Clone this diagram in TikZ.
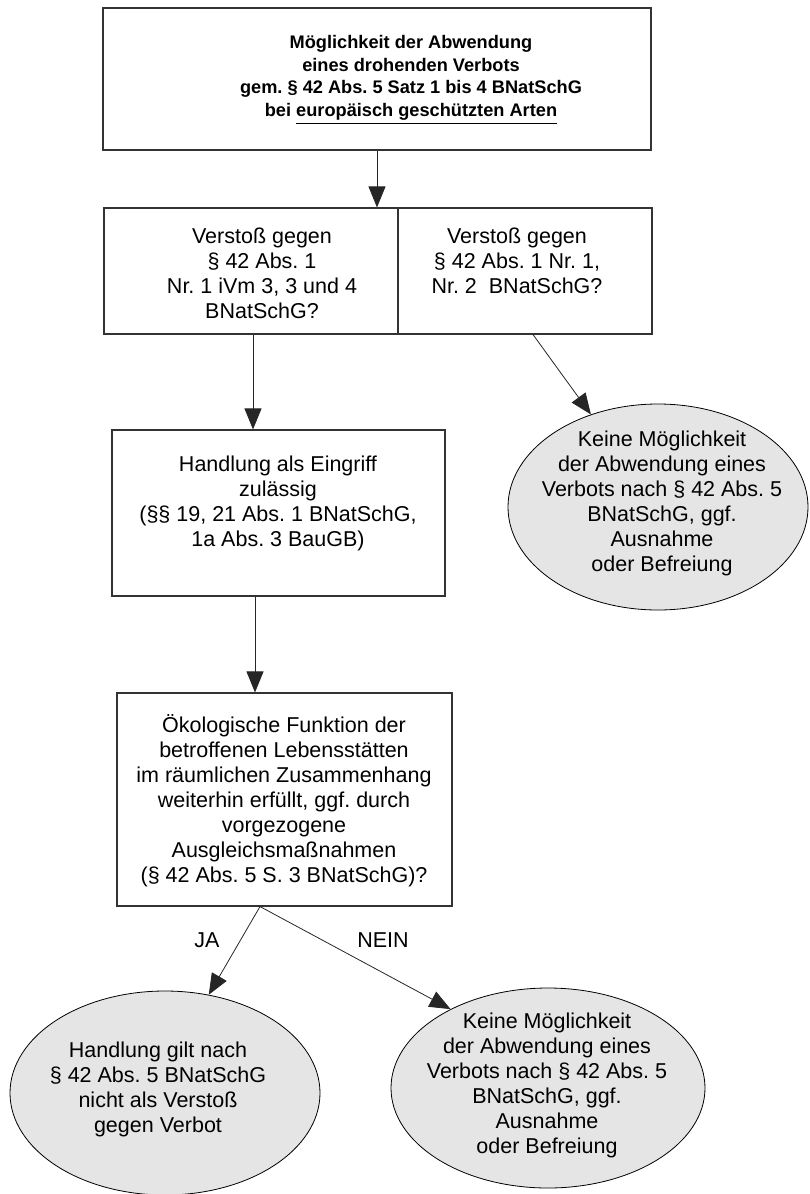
\documentclass[tikz,border=0pt]{standalone}
\usepackage{fontspec}
\setmainfont{Liberation Sans}
\usetikzlibrary{shapes.geometric,arrows.meta,calc}
% underline set just below the descenders
\newcommand\lowrule[1]{\leavevmode\vtop{\hbox{#1}\kern 2.5pt\hrule height 1.5pt}}
\begin{document}
\frenchspacing
\begin{tikzpicture}[x=1pt,y=-1pt,
  box/.style={draw=black!80, line width=1.1pt, rectangle, inner sep=0pt},
  txt/.style={align=center, inner sep=0pt, font=\fontsize{21.5}{25}\selectfont},
  head/.style={align=center, inner sep=0pt, font=\fontsize{18.2}{22.5}\selectfont\bfseries},
  bubble/.style={draw=black, line width=0.8pt, fill=black!10, ellipse, inner sep=0pt},
  flow/.style={draw=black!85, line width=0.8pt, -{Triangle[length=21pt,width=17pt]}},
  tag/.style={inner sep=0pt, font=\fontsize{21.5}{25}\selectfont}]

\useasboundingbox (0,0) rectangle (809,1194);

% boxes
\node[box, minimum width=548pt, minimum height=142pt] (top)  at (377,79) {};
\node[box, minimum width=294pt, minimum height=126pt] (rowL) at (251,271) {};
\node[box, minimum width=254pt, minimum height=126pt] (rowR) at (525,271) {};
\node[box, minimum width=333pt, minimum height=166pt] (mid)  at (278.5,513) {};
\node[box, minimum width=335pt, minimum height=213pt] (bot)  at (284.5,799.5) {};

% result ellipses
\node[bubble, minimum width=300pt, minimum height=206pt] (ellR) at (658,507) {};
\node[bubble, minimum width=310pt, minimum height=204pt] (ellA) at (165,1093) {};
\node[bubble, minimum width=314pt, minimum height=200pt] (ellB) at (548,1088) {};

% texts
\node[head] (topT) at (411,80) {Möglichkeit der Abwendung\\eines drohenden Verbots\\gem. § 42 Abs. 5 Satz 1 bis 4 BNatSchG\\bei \lowrule{europäisch geschützten Arten}};
\node[txt] (rowLT) at (262,273) {Verstoß gegen\\§ 42 Abs. 1\\Nr. 1 iVm 3, 3 und 4\\BNatSchG?};
\node[txt] (rowRT) at (517,260.5) {Verstoß gegen\\§ 42 Abs. 1 Nr. 1,\\Nr. 2\ \ BNatSchG?};
\node[txt] (midT) at (278,503) {Handlung als Eingriff\\zulässig\\(§§ 19, 21 Abs. 1 BNatSchG,\\1a Abs. 3 BauGB)};
\node[txt] (botT) at (284,800.5) {Ökologische Funktion der\\betroffenen Lebensstätten\\im räumlichen Zusammenhang\\weiterhin erfüllt, ggf. durch\\vorgezogene\\Ausgleichsmaßnahmen\\(§ 42 Abs. 5 S. 3 BNatSchG)?};
\node[txt] (ellRT) at (662,503) {Keine Möglichkeit\\der Abwendung eines\\Verbots nach § 42 Abs. 5\\BNatSchG, ggf.\\Ausnahme\\oder Befreiung};
\node[txt] (ellAT) at (158,1089) {Handlung gilt nach\\§ 42 Abs. 5 BNatSchG\\nicht als Verstoß\\gegen Verbot};
\node[txt] (ellBT) at (547,1085) {Keine Möglichkeit\\der Abwendung eines\\Verbots nach § 42 Abs. 5\\BNatSchG, ggf.\\Ausnahme\\oder Befreiung};
\node[tag] (ja) at (207,940) {JA};
\node[tag] (nein) at (383,940) {NEIN};

% connectors
\draw[flow] (top.south) -- (top.south |- rowL.north);
\draw[flow] ([xshift=2pt]rowL.south) -- ([xshift=2pt]rowL.south |- mid.north);
\draw[flow] ([xshift=8pt]rowR.south) -- (ellR);
\draw[flow] ([xshift=-23.5pt]mid.south) -- ([xshift=-23.5pt]mid.south |- bot.north);
\coordinate (fork) at ([xshift=-24.5pt]bot.south);
\draw[flow] (fork) -- (ellA.66);
\draw[flow] (fork) -- (ellB.141);
\end{tikzpicture}
\end{document}
